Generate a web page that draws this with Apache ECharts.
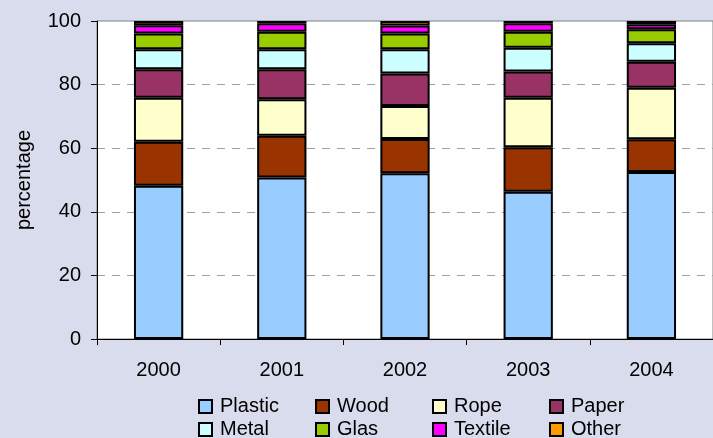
<!DOCTYPE html>
<html>
<head>
<meta charset="utf-8">
<script src="https://cdn.jsdelivr.net/npm/echarts@6/dist/echarts.min.js"></script>
<style>
html,body{margin:0;padding:0;background:#D8DCED;}
#c{width:713px;height:438px;}
</style>
</head>
<body>
<div id="c"></div>
<script>
const years = ['2000','2001','2002','2003','2004'];
const seriesNames = ['Plastic','Wood','Rope','Paper','Metal','Glas','Textile','Other'];
const colors = ['#99CCFF','#993300','#FFFFCC','#993366','#CCFFFF','#99CC00','#FF00FF','#FF9900'];
const plastic = [48.2, 50.8, 52.1, 46.3, 52.5];
const wood    = [13.8, 13.1, 10.8, 14.0, 10.3];
const rope    = [13.9, 11.5, 10.4, 15.6, 16.2];
const paper   = [8.9, 9.4, 10.2, 8.2, 8.2];
const metal   = [6.3, 6.3, 7.6, 7.5, 5.8];
const glas    = [5.0, 5.5, 5.0, 5.0, 4.4];
const textile = [2.6, 2.7, 2.5, 2.7, 1.6];
const other   = [1.3, 0.7, 1.4, 0.7, 1.0];
const yTicks = [0, 20, 40, 60, 80, 100];

const values = [plastic, wood, rope, paper, metal, glas, textile, other];
const font = 'Liberation Sans, Arial, sans-serif';

const chart = echarts.init(document.getElementById('c'));
chart.setOption({
  backgroundColor: '#D8DCED',
  animation: false,
  textStyle: {fontFamily: font, color: '#000'},
  grid: {
    left: 97, right: -6, top: 21, bottom: 99,
    show: true, backgroundColor: '#FFFFFF', borderColor: '#808080', borderWidth: 1
  },
  legend: {
    left: 198, top: 395, width: 470, padding: 0,
    itemGap: 0, itemWidth: 13, itemHeight: 13,
    icon: 'rect',
    itemStyle: {borderColor: '#000', borderWidth: 2},
    textStyle: {fontSize: 20, color: '#000', fontFamily: font, width: 95, lineHeight: 23, padding: [0,0,0,3]},
    data: seriesNames
  },
  xAxis: {
    type: 'category', data: years,
    axisLine: {lineStyle: {color: '#000', width: 1}},
    axisTick: {show: true, length: 6, lineStyle: {color: '#000'}},
    axisLabel: {fontSize: 20, color: '#000', margin: 21, fontFamily: font}
  },
  yAxis: {
    type: 'value', min: yTicks[0], max: yTicks[yTicks.length-1], interval: 20,
    name: 'percentage', nameLocation: 'middle', nameGap: 63,
    nameTextStyle: {fontSize: 20, color: '#000', fontFamily: font},
    axisLine: {show: true, lineStyle: {color: '#000', width: 1}},
    axisTick: {show: true, length: 6, lineStyle: {color: '#000'}},
    axisLabel: {fontSize: 20, color: '#000', margin: 16, fontFamily: font},
    splitLine: {show: true, showMaxLine: false, lineStyle: {color: '#A0A0A0', type: [8, 7], width: 1}}
  },
  series: seriesNames.map((n, i) => ({
    name: n, type: 'bar', stack: 'total', data: values[i],
    barWidth: '40%',
    itemStyle: {color: colors[i], borderColor: '#000', borderWidth: 2}
  }))
});
</script>
</body>
</html>
